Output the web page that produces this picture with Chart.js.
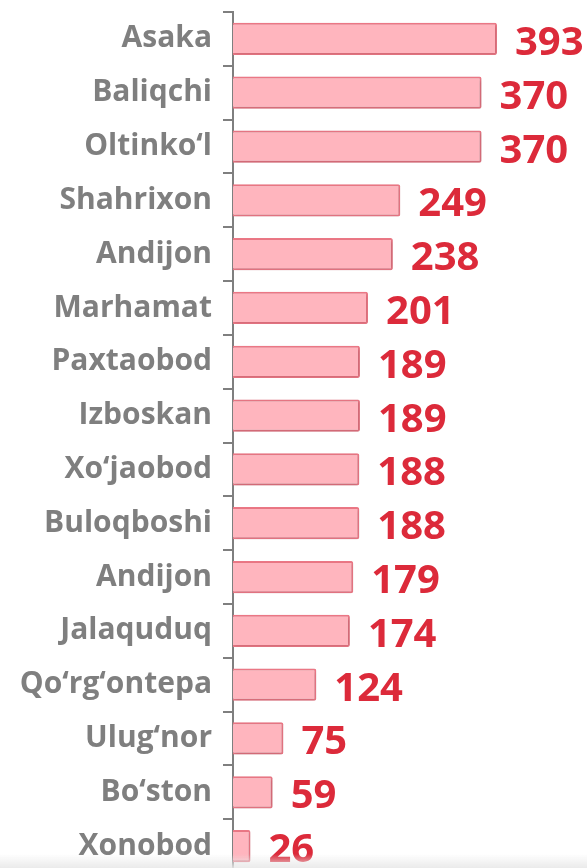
<!DOCTYPE html>
<html>
<head>
<meta charset="utf-8">
<script src="https://cdn.jsdelivr.net/npm/chart.js@4.4.1/dist/chart.umd.min.js"></script>
<style>
  html, body { margin: 0; padding: 0; background: #fff; overflow: hidden; }
  #wrap { position: relative; width: 587px; height: 868px; overflow: hidden; }
  #bottom-shade {
    position: absolute; left: 0; right: 0; bottom: 0; height: 14px;
    background: linear-gradient(to bottom, rgba(240,240,240,0), rgba(232,232,232,0.9));
    pointer-events: none;
  }
</style>
</head>
<body>
<div id="wrap">
  <canvas id="districts-bar" width="587" height="880"></canvas>
  <div id="bottom-shade"></div>
</div>
<script>
const districts = [
  'Asaka', 'Baliqchi', 'Oltinko‘l', 'Shahrixon', 'Andijon', 'Marhamat',
  'Paxtaobod', 'Izboskan', 'Xo‘jaobod', 'Buloqboshi', 'Andijon', 'Jalaquduq',
  'Qo‘rg‘ontepa', 'Ulug‘nor', 'Bo‘ston', 'Xonobod'
];
const counts = [393, 370, 370, 249, 238, 201, 189, 189, 188, 188, 179, 174, 124, 75, 59, 26];

const axisGray = '#7f7f7f';
const valueRed = '#dc2a3a';

// draws the big red number to the right of every bar
const valueLabels = {
  id: 'valueLabels',
  afterDatasetsDraw(chart) {
    const ctx = chart.ctx;
    const meta = chart.getDatasetMeta(0);
    ctx.save();
    ctx.font = 'bold 40px "Open Sans"';
    ctx.fillStyle = valueRed;
    ctx.textAlign = 'left';
    ctx.textBaseline = 'alphabetic';
    meta.data.forEach((bar, i) => {
      ctx.fillText(String(counts[i]), bar.x + 18, bar.y + 16);
    });
    ctx.restore();
  }
};

// soft shadow under bars
const barShadow = {
  id: 'barShadow',
  beforeDatasetsDraw(chart) {
    const ctx = chart.ctx;
    ctx.save();
    ctx.shadowColor = 'rgba(0,0,0,0.18)';
    ctx.shadowBlur = 3;
    ctx.shadowOffsetX = 1;
    ctx.shadowOffsetY = 1;
  },
  afterDatasetsDraw(chart) {
    chart.ctx.restore();
  }
};

function drawChart() {
  new Chart(document.getElementById('districts-bar'), {
    type: 'bar',
    data: {
      labels: districts,
      datasets: [{
        data: counts,
        backgroundColor: '#ffb5be',
        borderColor: '#ec7886',
        borderWidth: 2,
        borderRadius: 2,
        borderSkipped: 'left',
        barPercentage: 0.75,
        categoryPercentage: 0.8
      }]
    },
    options: {
      indexAxis: 'y',
      responsive: false,
      animation: false,
      layout: { padding: { top: 12, bottom: 7, left: 0, right: 0 } },
      plugins: {
        legend: { display: false },
        tooltip: { enabled: false }
      },
      scales: {
        x: {
          display: false,
          min: 0,
          max: 527
        },
        y: {
          afterFit(scale) {
            scale.width = 233;
            scale.paddingTop = 0;
            scale.paddingBottom = 0;
          },
          grid: {
            drawOnChartArea: false,
            tickLength: 10,
            color: axisGray,
            lineWidth: 2
          },
          border: { color: axisGray, width: 2 },
          ticks: {
            color: axisGray,
            padding: 11,
            font: { family: '"Open Sans"', weight: 'bold', size: 30 }
          }
        }
      }
    },
    plugins: [barShadow, valueLabels]
  });
}

Promise.all([
  document.fonts.load('bold 40px "Open Sans"'),
  document.fonts.load('bold 30px "Open Sans"')
]).then(drawChart, drawChart);
</script>
</body>
</html>
